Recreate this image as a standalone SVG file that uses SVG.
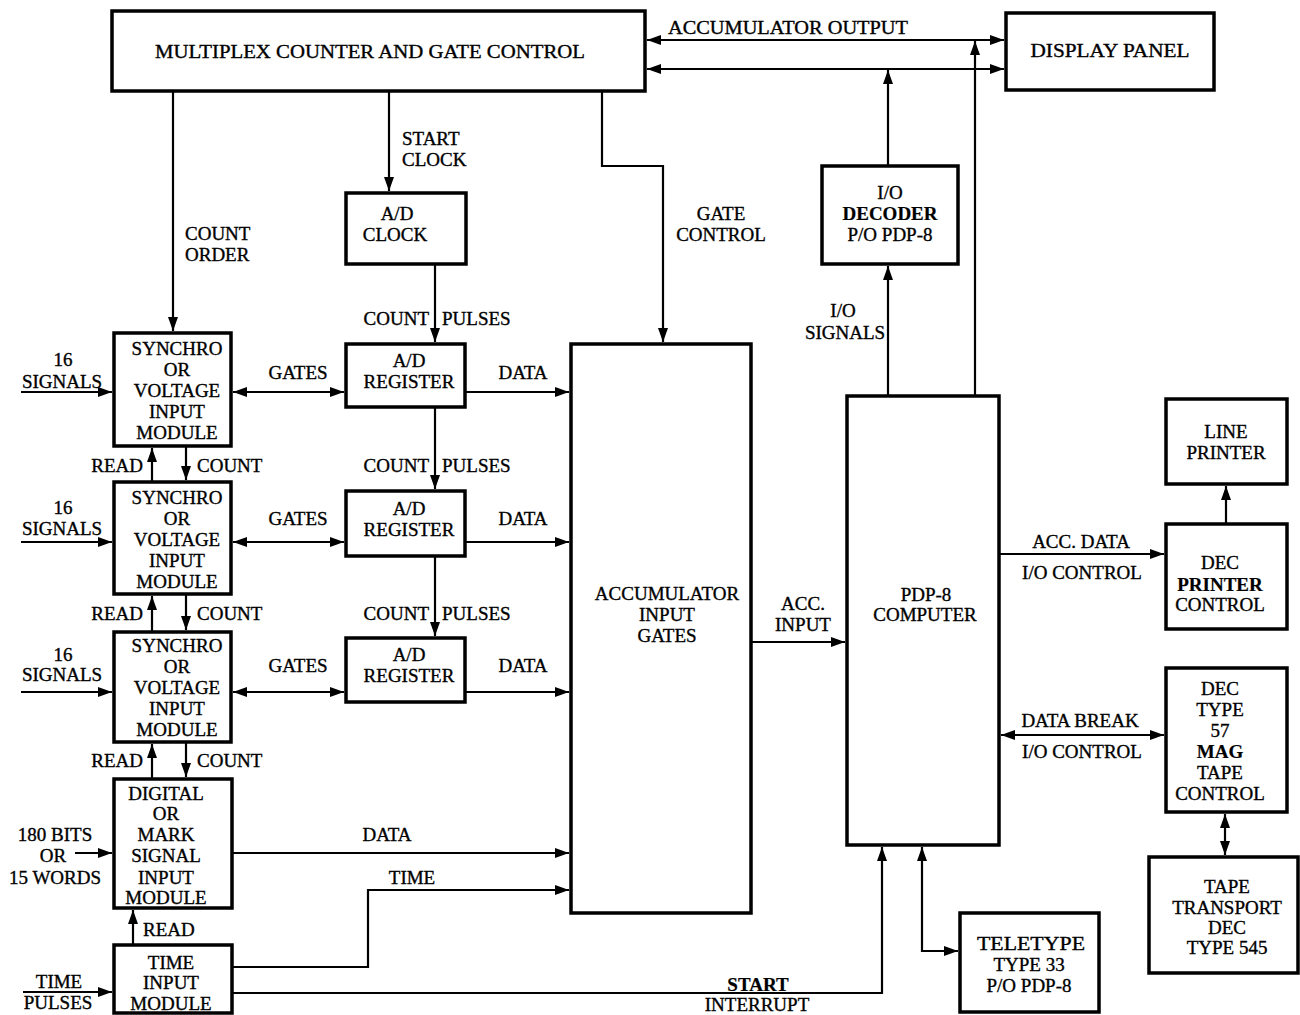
<svg xmlns="http://www.w3.org/2000/svg" width="1300" height="1015" viewBox="0 0 1300 1015">
  <style>
    .box rect { fill: #fff; stroke: #000; stroke-width: 3.5; }
    .t { font-family: "Liberation Serif", "Times New Roman", serif; font-size: 19px; fill: #000; stroke: #000; stroke-width: 0.35; text-anchor: middle; }
    .l { text-anchor: start; }
    .r { text-anchor: end; }
    .b { font-weight: bold; stroke-width: 0.2; }
    .wire { fill: none; stroke: #000; stroke-width: 2.2; }
  </style>
  <defs>
    <marker id="ah" markerUnits="userSpaceOnUse" markerWidth="15" markerHeight="11" refX="14" refY="5" orient="auto-start-reverse">
      <path d="M0,0 L14,5 L0,10 z" fill="#000"/>
    </marker>
  </defs>
  <rect width="1300" height="1015" fill="#fff"/>

  <!-- connectors -->
  <g id="connectors" class="wire">
    <line x1="647" y1="40" x2="1004" y2="40" marker-start="url(#ah)" marker-end="url(#ah)"/>
    <line x1="647" y1="69" x2="1004" y2="69" marker-start="url(#ah)" marker-end="url(#ah)"/>
    <line x1="975" y1="396" x2="975" y2="41" marker-end="url(#ah)"/>
    <line x1="888" y1="166" x2="888" y2="70" marker-end="url(#ah)"/>
    <line x1="888" y1="396" x2="888" y2="266" marker-end="url(#ah)"/>
    <line x1="389" y1="91" x2="389" y2="191" marker-end="url(#ah)"/>
    <line x1="173" y1="91" x2="173" y2="331" marker-end="url(#ah)"/>
    <polyline points="602,91 602,166 663,166 663,342" marker-end="url(#ah)"/>
    <line x1="435" y1="264" x2="435" y2="342" marker-end="url(#ah)"/>
    <line x1="435" y1="407" x2="435" y2="489" marker-end="url(#ah)"/>
    <line x1="435" y1="556" x2="435" y2="636" marker-end="url(#ah)"/>
    <!-- gates -->
    <line x1="233" y1="392" x2="344" y2="392" marker-start="url(#ah)" marker-end="url(#ah)"/>
    <line x1="233" y1="542" x2="344" y2="542" marker-start="url(#ah)" marker-end="url(#ah)"/>
    <line x1="233" y1="692" x2="344" y2="692" marker-start="url(#ah)" marker-end="url(#ah)"/>
    <!-- data from registers -->
    <line x1="465" y1="392" x2="569" y2="392" marker-end="url(#ah)"/>
    <line x1="465" y1="542" x2="569" y2="542" marker-end="url(#ah)"/>
    <line x1="465" y1="692" x2="569" y2="692" marker-end="url(#ah)"/>
    <!-- signal inputs -->
    <line x1="21" y1="392" x2="112" y2="392" marker-end="url(#ah)"/>
    <line x1="21" y1="542" x2="112" y2="542" marker-end="url(#ah)"/>
    <line x1="21" y1="692" x2="112" y2="692" marker-end="url(#ah)"/>
    <!-- read / count between modules -->
    <line x1="152" y1="482" x2="152" y2="448" marker-end="url(#ah)"/>
    <line x1="152" y1="632" x2="152" y2="596" marker-end="url(#ah)"/>
    <line x1="152" y1="779" x2="152" y2="744" marker-end="url(#ah)"/>
    <line x1="186" y1="446" x2="186" y2="480" marker-end="url(#ah)"/>
    <line x1="186" y1="594" x2="186" y2="630" marker-end="url(#ah)"/>
    <line x1="186" y1="742" x2="186" y2="777" marker-end="url(#ah)"/>
    <line x1="75" y1="853" x2="112" y2="853" marker-end="url(#ah)"/>
    <line x1="232" y1="853" x2="569" y2="853" marker-end="url(#ah)"/>
    <polyline points="232,967 368,967 368,890 569,890" marker-end="url(#ah)"/>
    <line x1="133" y1="945" x2="133" y2="910" marker-end="url(#ah)"/>
    <line x1="23" y1="992" x2="112" y2="992" marker-end="url(#ah)"/>
    <polyline points="232,993 882,993 882,847" marker-end="url(#ah)"/>
    <!-- computer side -->
    <line x1="751" y1="642" x2="845" y2="642" marker-end="url(#ah)"/>
    <line x1="999" y1="554" x2="1164" y2="554" marker-end="url(#ah)"/>
    <line x1="1226" y1="524" x2="1226" y2="486" marker-end="url(#ah)"/>
    <line x1="1001" y1="735" x2="1164" y2="735" marker-start="url(#ah)" marker-end="url(#ah)"/>
    <line x1="1225" y1="814" x2="1225" y2="855" marker-start="url(#ah)" marker-end="url(#ah)"/>
    <polyline points="922,847 922,951 958,951" marker-start="url(#ah)" marker-end="url(#ah)"/>
  </g>

  <!-- connector labels -->
  <g id="labels">
    <text class="t" x="788" y="34" textLength="240" lengthAdjust="spacingAndGlyphs">ACCUMULATOR OUTPUT</text>
    <text class="t l" x="402" y="145">START</text>
    <text class="t l" x="402" y="166">CLOCK</text>
    <text class="t l" x="185" y="240">COUNT</text>
    <text class="t l" x="185" y="261">ORDER</text>
    <text class="t" x="721" y="220">GATE</text>
    <text class="t" x="721" y="241">CONTROL</text>
    <text class="t" x="843" y="317">I/O</text>
    <text class="t" x="845" y="339">SIGNALS</text>
    <text class="t r" x="429" y="325">COUNT</text>
    <text class="t l" x="442" y="325">PULSES</text>
    <text class="t r" x="429" y="472">COUNT</text>
    <text class="t l" x="442" y="472">PULSES</text>
    <text class="t r" x="429" y="620">COUNT</text>
    <text class="t l" x="442" y="620">PULSES</text>
    <text class="t" x="298" y="379">GATES</text>
    <text class="t" x="298" y="525">GATES</text>
    <text class="t" x="298" y="672">GATES</text>
    <text class="t" x="523" y="379">DATA</text>
    <text class="t" x="523" y="525">DATA</text>
    <text class="t" x="523" y="672">DATA</text>
    <text class="t" x="63" y="366">16</text>
    <text class="t" x="62" y="388">SIGNALS</text>
    <text class="t" x="63" y="514">16</text>
    <text class="t" x="62" y="535">SIGNALS</text>
    <text class="t" x="63" y="661">16</text>
    <text class="t" x="62" y="681">SIGNALS</text>
    <text class="t r" x="143" y="472">READ</text>
    <text class="t l" x="197" y="472">COUNT</text>
    <text class="t r" x="143" y="620">READ</text>
    <text class="t l" x="197" y="620">COUNT</text>
    <text class="t r" x="143" y="767">READ</text>
    <text class="t l" x="197" y="767">COUNT</text>
    <text class="t" x="55" y="841">180 BITS</text>
    <text class="t" x="53" y="862">OR</text>
    <text class="t" x="55" y="884">15 WORDS</text>
    <text class="t" x="387" y="841">DATA</text>
    <text class="t" x="412" y="884">TIME</text>
    <text class="t l" x="143" y="936">READ</text>
    <text class="t" x="59" y="988">TIME</text>
    <text class="t" x="58" y="1009">PULSES</text>
    <text class="t" x="803" y="610">ACC.</text>
    <text class="t" x="803" y="631">INPUT</text>
    <text class="t" x="1081" y="548">ACC. DATA</text>
    <text class="t" x="1082" y="579">I/O CONTROL</text>
    <text class="t" x="1080" y="727">DATA BREAK</text>
    <text class="t" x="1082" y="758">I/O CONTROL</text>
    <text class="t b" x="758" y="991">START</text>
    <text class="t" x="757" y="1011">INTERRUPT</text>
  </g>

  <!-- nodes -->
  <g id="mux" class="box">
    <rect x="112" y="11" width="533" height="80"/>
    <text class="t" x="370" y="58" textLength="430" lengthAdjust="spacingAndGlyphs">MULTIPLEX COUNTER AND GATE CONTROL</text>
  </g>
  <g id="display-panel" class="box">
    <rect x="1006" y="13" width="208" height="77"/>
    <text class="t" x="1110" y="57" textLength="159" lengthAdjust="spacingAndGlyphs">DISPLAY PANEL</text>
  </g>
  <g id="io-decoder" class="box">
    <rect x="822" y="166" width="136" height="98"/>
    <text class="t" x="890" y="199">I/O</text>
    <text class="t b" x="890" y="220">DECODER</text>
    <text class="t" x="890" y="241">P/O PDP-8</text>
  </g>
  <g id="ad-clock" class="box">
    <rect x="346" y="193" width="120" height="71"/>
    <text class="t" x="397" y="220">A/D</text>
    <text class="t" x="395" y="241">CLOCK</text>
  </g>
  <g id="synchro-1" class="box">
    <rect x="114" y="333" width="117" height="113"/>
    <text class="t" x="177" y="355">SYNCHRO</text>
    <text class="t" x="177" y="376">OR</text>
    <text class="t" x="177" y="397">VOLTAGE</text>
    <text class="t" x="177" y="418">INPUT</text>
    <text class="t" x="177" y="439">MODULE</text>
  </g>
  <g id="synchro-2" class="box">
    <rect x="114" y="482" width="117" height="112"/>
    <text class="t" x="177" y="504">SYNCHRO</text>
    <text class="t" x="177" y="525">OR</text>
    <text class="t" x="177" y="546">VOLTAGE</text>
    <text class="t" x="177" y="567">INPUT</text>
    <text class="t" x="177" y="588">MODULE</text>
  </g>
  <g id="synchro-3" class="box">
    <rect x="114" y="632" width="117" height="110"/>
    <text class="t" x="177" y="652">SYNCHRO</text>
    <text class="t" x="177" y="673">OR</text>
    <text class="t" x="177" y="694">VOLTAGE</text>
    <text class="t" x="177" y="715">INPUT</text>
    <text class="t" x="177" y="736">MODULE</text>
  </g>
  <g id="digital-input" class="box">
    <rect x="114" y="779" width="118" height="129"/>
    <text class="t" x="166" y="800">DIGITAL</text>
    <text class="t" x="166" y="820">OR</text>
    <text class="t" x="166" y="841">MARK</text>
    <text class="t" x="166" y="862">SIGNAL</text>
    <text class="t" x="166" y="884">INPUT</text>
    <text class="t" x="166" y="904">MODULE</text>
  </g>
  <g id="time-input" class="box">
    <rect x="114" y="945" width="118" height="68"/>
    <text class="t" x="171" y="969">TIME</text>
    <text class="t" x="171" y="989">INPUT</text>
    <text class="t" x="171" y="1010">MODULE</text>
  </g>
  <g id="ad-register-1" class="box">
    <rect x="346" y="344" width="119" height="63"/>
    <text class="t" x="409" y="367">A/D</text>
    <text class="t" x="409" y="388">REGISTER</text>
  </g>
  <g id="ad-register-2" class="box">
    <rect x="346" y="491" width="119" height="65"/>
    <text class="t" x="409" y="515">A/D</text>
    <text class="t" x="409" y="536">REGISTER</text>
  </g>
  <g id="ad-register-3" class="box">
    <rect x="346" y="638" width="119" height="64"/>
    <text class="t" x="409" y="661">A/D</text>
    <text class="t" x="409" y="682">REGISTER</text>
  </g>
  <g id="accumulator-input-gates" class="box">
    <rect x="571" y="344" width="180" height="569"/>
    <text class="t" x="667" y="600">ACCUMULATOR</text>
    <text class="t" x="667" y="621">INPUT</text>
    <text class="t" x="667" y="642">GATES</text>
  </g>
  <g id="pdp8" class="box">
    <rect x="847" y="396" width="152" height="449"/>
    <text class="t" x="926" y="601">PDP-8</text>
    <text class="t" x="925" y="621">COMPUTER</text>
  </g>
  <g id="line-printer" class="box">
    <rect x="1166" y="399" width="121" height="85"/>
    <text class="t" x="1226" y="438">LINE</text>
    <text class="t" x="1226" y="459">PRINTER</text>
  </g>
  <g id="printer-control" class="box">
    <rect x="1166" y="524" width="121" height="105"/>
    <text class="t" x="1220" y="569">DEC</text>
    <text class="t b" x="1220" y="591">PRINTER</text>
    <text class="t" x="1220" y="611">CONTROL</text>
  </g>
  <g id="mag-tape-control" class="box">
    <rect x="1166" y="668" width="121" height="144"/>
    <text class="t" x="1220" y="695">DEC</text>
    <text class="t" x="1220" y="716">TYPE</text>
    <text class="t" x="1220" y="737">57</text>
    <text class="t b" x="1220" y="758">MAG</text>
    <text class="t" x="1220" y="779">TAPE</text>
    <text class="t" x="1220" y="800">CONTROL</text>
  </g>
  <g id="tape-transport" class="box">
    <rect x="1149" y="857" width="149" height="116"/>
    <text class="t" x="1227" y="893">TAPE</text>
    <text class="t" x="1227" y="914">TRANSPORT</text>
    <text class="t" x="1227" y="934">DEC</text>
    <text class="t" x="1227" y="954">TYPE 545</text>
  </g>
  <g id="teletype" class="box">
    <rect x="960" y="913" width="139" height="99"/>
    <text class="t" x="1031" y="950" textLength="108" lengthAdjust="spacingAndGlyphs">TELETYPE</text>
    <text class="t" x="1029" y="971">TYPE 33</text>
    <text class="t" x="1029" y="992">P/O PDP-8</text>
  </g>
</svg>
